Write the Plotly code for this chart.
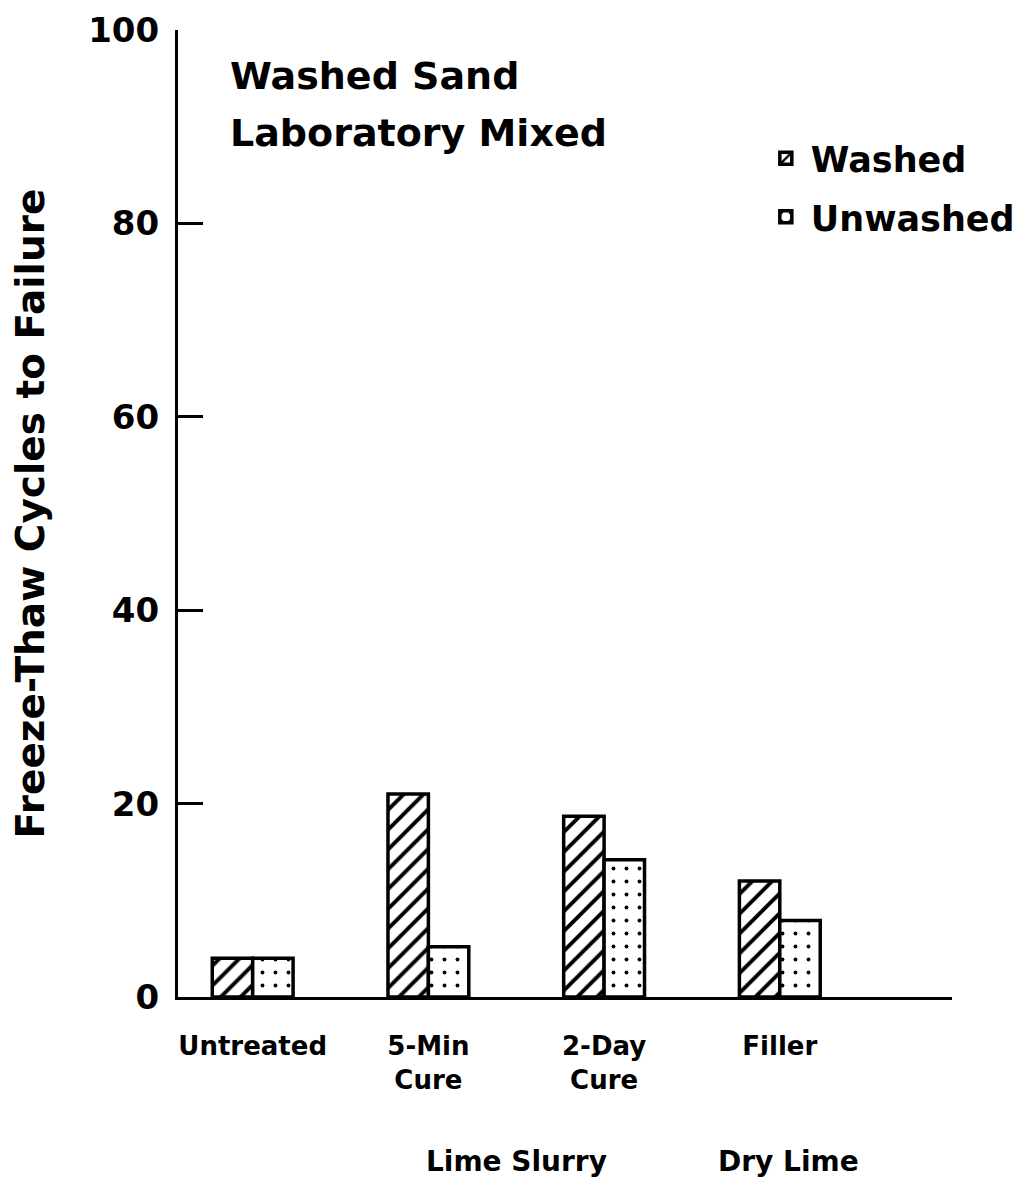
import plotly.graph_objects as go

categories = ["Untreated", "5-Min<br>Cure", "2-Day<br>Cure", "Filler"]
washed = [4.0, 21.0, 18.7, 12.0]
unwashed = [4.0, 5.2, 14.2, 7.9]
y_ticks = [0, 20, 40, 60, 80, 100]
group_labels = ["Lime Slurry", "Dry Lime"]
group_pos = [1.5, 3.05]

FONT = "DejaVu Sans"
xpos = list(range(len(categories)))

fig = go.Figure()
fig.add_trace(go.Bar(
    x=xpos, y=washed, name="Washed", legendgroup="a",
    marker=dict(color="white", line=dict(color="black", width=3.5),
                pattern=dict(shape="/", fgcolor="black", bgcolor="white", size=14,
                             solidity=0.28, fgopacity=1)),
))
fig.add_trace(go.Bar(
    x=xpos, y=unwashed, name="Unwashed", legendgroup="b",
    marker=dict(color="white", line=dict(color="black", width=3.5),
                pattern=dict(shape=".", fgcolor="black", bgcolor="white", size=13,
                             solidity=0.07, fgopacity=1)),
))

fig.update_layout(
    width=1014, height=1169,
    margin=dict(l=170, r=70, t=22, b=180, autoexpand=False),
    paper_bgcolor="white", plot_bgcolor="white",
    barmode="group", bargap=0.54, bargroupgap=0,
    font=dict(family=FONT, color="black", weight="bold"),
    showlegend=True,
    legend=dict(x=0.753, xanchor="left", y=0.837, yanchor="middle",
                font=dict(size=35, family=FONT, weight="bold"),
                traceorder="grouped", tracegroupgap=10, itemwidth=40,
                bgcolor="rgba(0,0,0,0)"),
    xaxis=dict(range=[-0.425, 3.98], tickvals=xpos, ticktext=categories,
               showline=True, linecolor="black", linewidth=3, ticks="",
               showgrid=False, zeroline=False, automargin=False,
               tickfont=dict(size=26, family=FONT, weight="bold"),
               ticklabelstandoff=24),
    yaxis=dict(range=[0, 100], tickvals=y_ticks, showline=True, linecolor="black",
               linewidth=3, ticks="inside", ticklen=25, tickwidth=3, tickcolor="black",
               showgrid=False, zeroline=False, ticklabelstandoff=9, automargin=False,
               tickfont=dict(size=34, family=FONT, weight="bold"),
               title=dict(text="Freeze-Thaw Cycles to Failure",
                          font=dict(size=39, family=FONT, weight="bold"), standoff=39)),
)

fig.add_annotation(text="Washed Sand", xref="paper", yref="paper", x=0.064, y=0.952,
                   xanchor="left", yanchor="middle", showarrow=False,
                   font=dict(size=38, family=FONT, weight="bold"))
fig.add_annotation(text="Laboratory Mixed", xref="paper", yref="paper", x=0.064, y=0.893,
                   xanchor="left", yanchor="middle", showarrow=False,
                   font=dict(size=38, family=FONT, weight="bold"))
for lbl, pos in zip(group_labels, group_pos):
    fig.add_annotation(text=lbl, xref="x", yref="paper", x=pos, y=-0.1706,
                       xanchor="center", yanchor="middle", showarrow=False,
                       font=dict(size=28, family=FONT, weight="bold"))

fig.write_html("out.html")
